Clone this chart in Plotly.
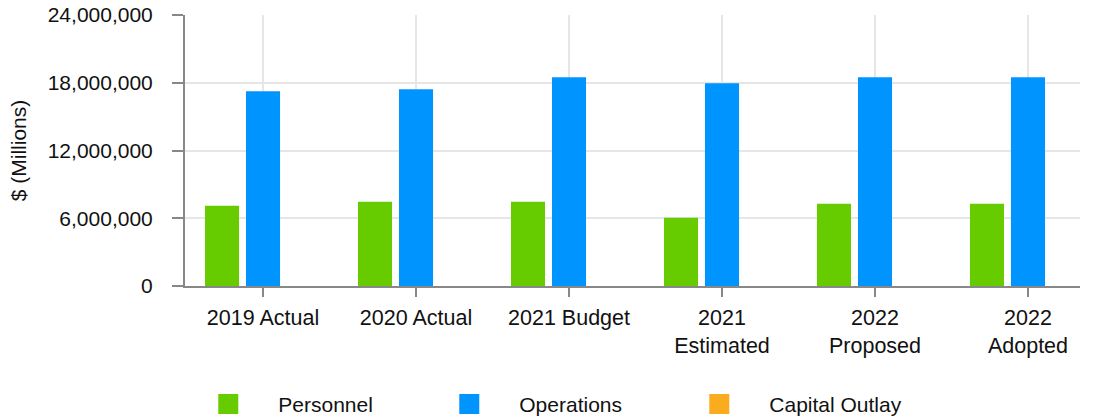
import plotly.graph_objects as go

categories = ["2019 Actual", "2020 Actual", "2021 Budget", "2021<br>Estimated", "2022<br>Proposed", "2022<br>Adopted"]
personnel = [7110000, 7470000, 7470000, 6040000, 7290000, 7290000]
operations = [17240000, 17420000, 18490000, 17960000, 18490000, 18490000]
capital_outlay = [0, 0, 0, 0, 0, 0]
series_names = ["Personnel", "Operations", "Capital Outlay"]
colors = ["#66CC00", "#0094FF", "#FBAC1E"]
legend_widths = [136, 145, 170]
y_ticks = [0, 6000000, 12000000, 18000000, 24000000]

FONT = "Liberation Sans, Arial, sans-serif"
fig = go.Figure()
for name, vals, col in zip(series_names, [personnel, operations, capital_outlay], colors):
    fig.add_trace(go.Bar(x=categories, y=vals, name=name, marker=dict(color=col, line=dict(width=0)),
                         showlegend=False))
for name, col, lw in zip(series_names, colors, legend_widths):
    fig.add_trace(go.Scatter(x=[None], y=[None], mode="markers", name=name, legendwidth=lw,
                             marker=dict(symbol="square", size=16, color=col, line=dict(color=col, width=4))))

fig.update_layout(
    width=1094, height=417,
    margin=dict(l=185, r=14, t=15, b=131, autoexpand=False),
    paper_bgcolor="white", plot_bgcolor="white",
    font=dict(family=FONT, size=21, color="#111111"),
    barmode="group", bargap=0.196, bargroupgap=0.17,
    showlegend=True,
    legend=dict(orientation="h", x=-0.0075, xanchor="left", y=-0.437, yanchor="middle",
                itemwidth=90, font=dict(size=21, family=FONT), traceorder="normal"),
    xaxis=dict(type="category", range=[-0.51, 5.34], showgrid=True, gridcolor="#E6E6E6", gridwidth=2,
               showline=True, linecolor="#888888", linewidth=2, ticks="outside", ticklen=9,
               tickcolor="#888888", tickwidth=2, tickfont=dict(size=21.5, family=FONT), fixedrange=True,
               automargin=False, ticklabelstandoff=2),
    yaxis=dict(range=[0, 24000000], tickvals=y_ticks, tickformat=",", showgrid=True,
               gridcolor="#E6E6E6", gridwidth=2, showline=True, linecolor="#888888", linewidth=2,
               ticks="outside", ticklen=11, tickcolor="#888888", tickwidth=2, zeroline=False,
               tickfont=dict(size=21, family=FONT), ticklabelstandoff=15, automargin=False,
               fixedrange=True,
               title=dict(text="$ (Millions)", font=dict(size=21, family=FONT), standoff=15)),
)
fig.write_html("out.html", config={"displayModeBar": False},
               post_script="document.body.style.margin='0px';document.body.style.overflow='hidden';")
